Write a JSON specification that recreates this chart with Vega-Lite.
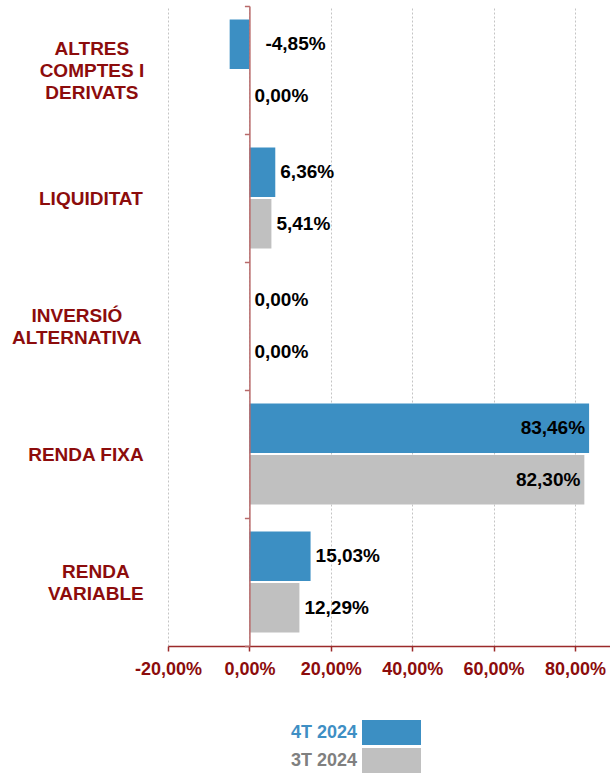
{
  "$schema": "https://vega.github.io/schema/vega-lite/v6.json",
  "width": 442,
  "height": 640,
  "autosize": {"type": "none"},
  "padding": {"left": 168, "top": 6, "right": 0, "bottom": 129},
  "background": "white",
  "config": {
    "view": {"stroke": null},
    "font": "Liberation Sans",
    "locale": {"number": {"decimal": ",", "thousands": ".", "grouping": [3], "currency": ["", " €"], "minus": "-", "percent": "%"}}
  },
  "data": {
    "values": [
      {"categoria": "ALTRES COMPTES I DERIVATS", "periode": "4T 2024", "valor": -0.0485},
      {"categoria": "ALTRES COMPTES I DERIVATS", "periode": "3T 2024", "valor": 0.0},
      {"categoria": "LIQUIDITAT", "periode": "4T 2024", "valor": 0.0636},
      {"categoria": "LIQUIDITAT", "periode": "3T 2024", "valor": 0.0541},
      {"categoria": "INVERSIÓ ALTERNATIVA", "periode": "4T 2024", "valor": 0.0},
      {"categoria": "INVERSIÓ ALTERNATIVA", "periode": "3T 2024", "valor": 0.0},
      {"categoria": "RENDA FIXA", "periode": "4T 2024", "valor": 0.8346},
      {"categoria": "RENDA FIXA", "periode": "3T 2024", "valor": 0.8230},
      {"categoria": "RENDA VARIABLE", "periode": "4T 2024", "valor": 0.1503},
      {"categoria": "RENDA VARIABLE", "periode": "3T 2024", "valor": 0.1229}
    ]
  },
  "encoding": {
    "y": {
      "field": "categoria",
      "type": "nominal",
      "sort": ["ALTRES COMPTES I DERIVATS", "LIQUIDITAT", "INVERSIÓ ALTERNATIVA", "RENDA FIXA", "RENDA VARIABLE"],
      "scale": {"paddingInner": 0, "paddingOuter": 0},
      "axis": {
        "title": null,
        "offset": -81.4,
        "domainColor": "#b86a6a",
        "domainWidth": 1.5,
        "tickColor": "#b86a6a",
        "tickWidth": 1.5,
        "tickSize": 5,
        "tickBand": "extent",
        "labelColor": "#8c0c0c",
        "labelFont": "Liberation Sans",
        "labelFontSize": 19,
        "labelFontWeight": "bold",
        "labelLineHeight": 22,
        "labelAlign": "center",
        "labelBaseline": "middle",
        "labelLimit": 300,
        "labelExpr": "datum.value == 'ALTRES COMPTES I DERIVATS' ? ['ALTRES', 'COMPTES I', 'DERIVATS'] : datum.value == 'INVERSIÓ ALTERNATIVA' ? ['INVERSIÓ', 'ALTERNATIVA'] : datum.value == 'RENDA VARIABLE' ? ['RENDA', 'VARIABLE'] : datum.label",
        "labelPadding": {"expr": "datum.value == 'ALTRES COMPTES I DERIVATS' ? 153 : datum.value == 'LIQUIDITAT' ? 154 : datum.value == 'INVERSIÓ ALTERNATIVA' ? 168 : datum.value == 'RENDA FIXA' ? 159 : 149"},
        "labelOffset": {"expr": "datum.value == 'ALTRES COMPTES I DERIVATS' ? -22 : (datum.value == 'INVERSIÓ ALTERNATIVA' || datum.value == 'RENDA VARIABLE') ? -11 : 0"},
        "zindex": 1
      }
    },
    "yOffset": {
      "field": "periode",
      "type": "nominal",
      "sort": ["4T 2024", "3T 2024"],
      "scale": {"paddingInner": 0.04, "paddingOuter": 0.262}
    }
  },
  "layer": [
    {
      "mark": {"type": "bar"},
      "encoding": {
        "x": {
          "field": "valor",
          "type": "quantitative",
          "scale": {"domain": [-0.2, 0.886], "nice": false, "zero": false},
          "axis": {
            "title": null,
            "values": [-0.2, 0, 0.2, 0.4, 0.6, 0.8],
            "format": ".2%",
            "labelFont": "Liberation Sans",
            "labelFontSize": 18,
            "labelFontWeight": "bold",
            "labelColor": "#8c0c0c",
            "labelPadding": 9,
            "labelFlush": false,
            "labelOverlap": false,
            "domainColor": "#9b2a2a",
            "domainWidth": 1.5,
            "tickColor": "#9b2a2a",
            "tickWidth": 1.5,
            "tickSize": 5,
            "grid": true,
            "gridColor": "#c4c4c4",
            "gridDash": [2, 2],
            "gridWidth": 1
          }
        },
        "color": {
          "field": "periode",
          "type": "nominal",
          "sort": ["4T 2024", "3T 2024"],
          "scale": {"domain": ["4T 2024", "3T 2024"], "range": ["#3c8fc3", "#c0c0c0"]},
          "legend": {
            "title": null,
            "orient": "none",
            "legendX": 194,
            "legendY": 714,
            "direction": "vertical",
            "padding": 0,
            "symbolType": "M-1,-1H3.72V1H-1Z",
            "symbolSize": 625,
            "symbolStrokeWidth": 0,
            "symbolOpacity": 1,
            "labelAlign": "right",
            "labelOffset": -30,
            "labelFont": "Liberation Sans",
            "labelFontSize": 18,
            "labelFontWeight": "bold",
            "rowPadding": 3,
            "encode": {
              "labels": {"update": {"fill": {"signal": "datum.value === '4T 2024' ? '#3f8fc4' : '#808080'"}}}
            }
          }
        }
      }
    },
    {
      "transform": [{"filter": "datum.valor >= 0 && datum.valor < 0.5"}],
      "mark": {"type": "text", "align": "left", "baseline": "middle", "dx": 5, "font": "Liberation Sans", "fontSize": 19, "fontWeight": "bold", "color": "#000000"},
      "encoding": {
        "x": {"field": "valor", "type": "quantitative"},
        "text": {"field": "valor", "type": "quantitative", "format": ".2%"}
      }
    },
    {
      "transform": [{"filter": "datum.valor < 0"}],
      "mark": {"type": "text", "align": "left", "baseline": "middle", "dx": 16, "font": "Liberation Sans", "fontSize": 19, "fontWeight": "bold", "color": "#000000"},
      "encoding": {
        "x": {"datum": 0, "type": "quantitative"},
        "text": {"field": "valor", "type": "quantitative", "format": ".2%"}
      }
    },
    {
      "transform": [{"filter": "datum.valor >= 0.5"}],
      "mark": {"type": "text", "align": "right", "baseline": "middle", "dx": -4, "font": "Liberation Sans", "fontSize": 19, "fontWeight": "bold", "color": "#000000"},
      "encoding": {
        "x": {"field": "valor", "type": "quantitative"},
        "text": {"field": "valor", "type": "quantitative", "format": ".2%"}
      }
    }
  ]
}
